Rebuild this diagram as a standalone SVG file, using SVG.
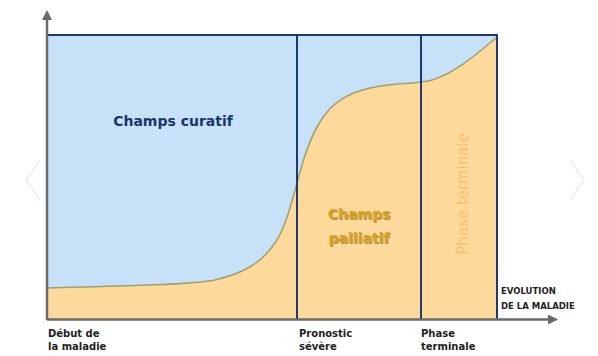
<svg xmlns="http://www.w3.org/2000/svg" width="598" height="356" viewBox="0 0 598 356">
<style>
.lbl{font-family:"DejaVu Sans","Liberation Sans",sans-serif;font-weight:bold;fill:#222;font-size:10px}
.sm{font-family:"DejaVu Sans","Liberation Sans",sans-serif;font-weight:bold;fill:#222;font-size:8.5px}
.nav{stroke:#1d3a70;stroke-width:2;fill:none}
.axis{stroke:#6b6b6b;stroke-width:2.5;fill:none}
</style>
<defs>
<marker id="ah" markerWidth="10" markerHeight="10" refX="8" refY="5" orient="auto" markerUnits="userSpaceOnUse"><path d="M0,0 L10,5 L0,10 Z" fill="#6b6b6b"/></marker>
</defs>
<rect width="598" height="356" fill="#fff"/>
<g id="chevrons" fill="none" stroke="#f0f0f0" stroke-width="2">
<path d="M40,160 L26,180 L40,200"/>
<path d="M570,160 L584,180 L570,200"/>
</g>
<g id="areas">
<rect x="48" y="35" width="449" height="284" fill="#c6e1f8"/>
<path d="M48,288 C120,286 190,285 215,280 C245,273 262,262 275,243 C287,225 292,200 300,172 C308,143 318,118 335,104 C352,90 375,86 398,84 C412,83 420,83 432,80 C452,74 470,60 497,37 L497,319 L48,319 Z" fill="#fdd99b"/>
<path d="M48,288 C120,286 190,285 215,280 C245,273 262,262 275,243 C287,225 292,200 300,172 C308,143 318,118 335,104 C352,90 375,86 398,84 C412,83 420,83 432,80 C452,74 470,60 497,37" fill="none" stroke="#a0a070" stroke-width="1.5"/>
</g>
<g id="frame">
<path class="nav" d="M48,35 L497,35 L497,319"/>
<line class="nav" x1="297" y1="35" x2="297" y2="319"/>
<line class="nav" x1="421" y1="35" x2="421" y2="319"/>
</g>
<g id="connectors">
<line class="axis" x1="47" y1="320" x2="47" y2="12" marker-end="url(#ah)"/>
<line class="axis" x1="47" y1="319.5" x2="556" y2="319.5" marker-end="url(#ah)"/>
</g>
<g id="curatif">
<text x="173" y="126" text-anchor="middle" font-family="DejaVu Sans, Liberation Sans, sans-serif" font-weight="bold" font-size="14" fill="#1a3566">Champs curatif</text>
</g>
<g id="palliatif" font-family="DejaVu Sans, Liberation Sans, sans-serif" font-weight="bold" font-size="14" text-anchor="middle">
<text x="359" y="219" fill="#7a5a10" opacity="0.6" transform="translate(1,1)">Champs</text>
<text x="359" y="243" fill="#7a5a10" opacity="0.6" transform="translate(1,1)">palliatif</text>
<text x="359" y="219" fill="#d9a325">Champs</text>
<text x="359" y="243" fill="#d9a325">palliatif</text>
</g>
<g id="phase-terminale">
<text transform="translate(468,194) rotate(-90)" text-anchor="middle" font-family="DejaVu Sans, Liberation Sans, sans-serif" font-size="15" fill="#f6c170">Phase terminale</text>
</g>
<g id="labels">
<text class="lbl" x="48" y="337">Début de</text>
<text class="lbl" x="48" y="350">la maladie</text>
<text class="lbl" x="299" y="337">Pronostic</text>
<text class="lbl" x="299" y="350">sévère</text>
<text class="lbl" x="421" y="337">Phase</text>
<text class="lbl" x="421" y="350">terminale</text>
<text class="sm" x="501" y="294">EVOLUTION</text>
<text class="sm" x="501" y="309">DE LA MALADIE</text>
</g>
</svg>
